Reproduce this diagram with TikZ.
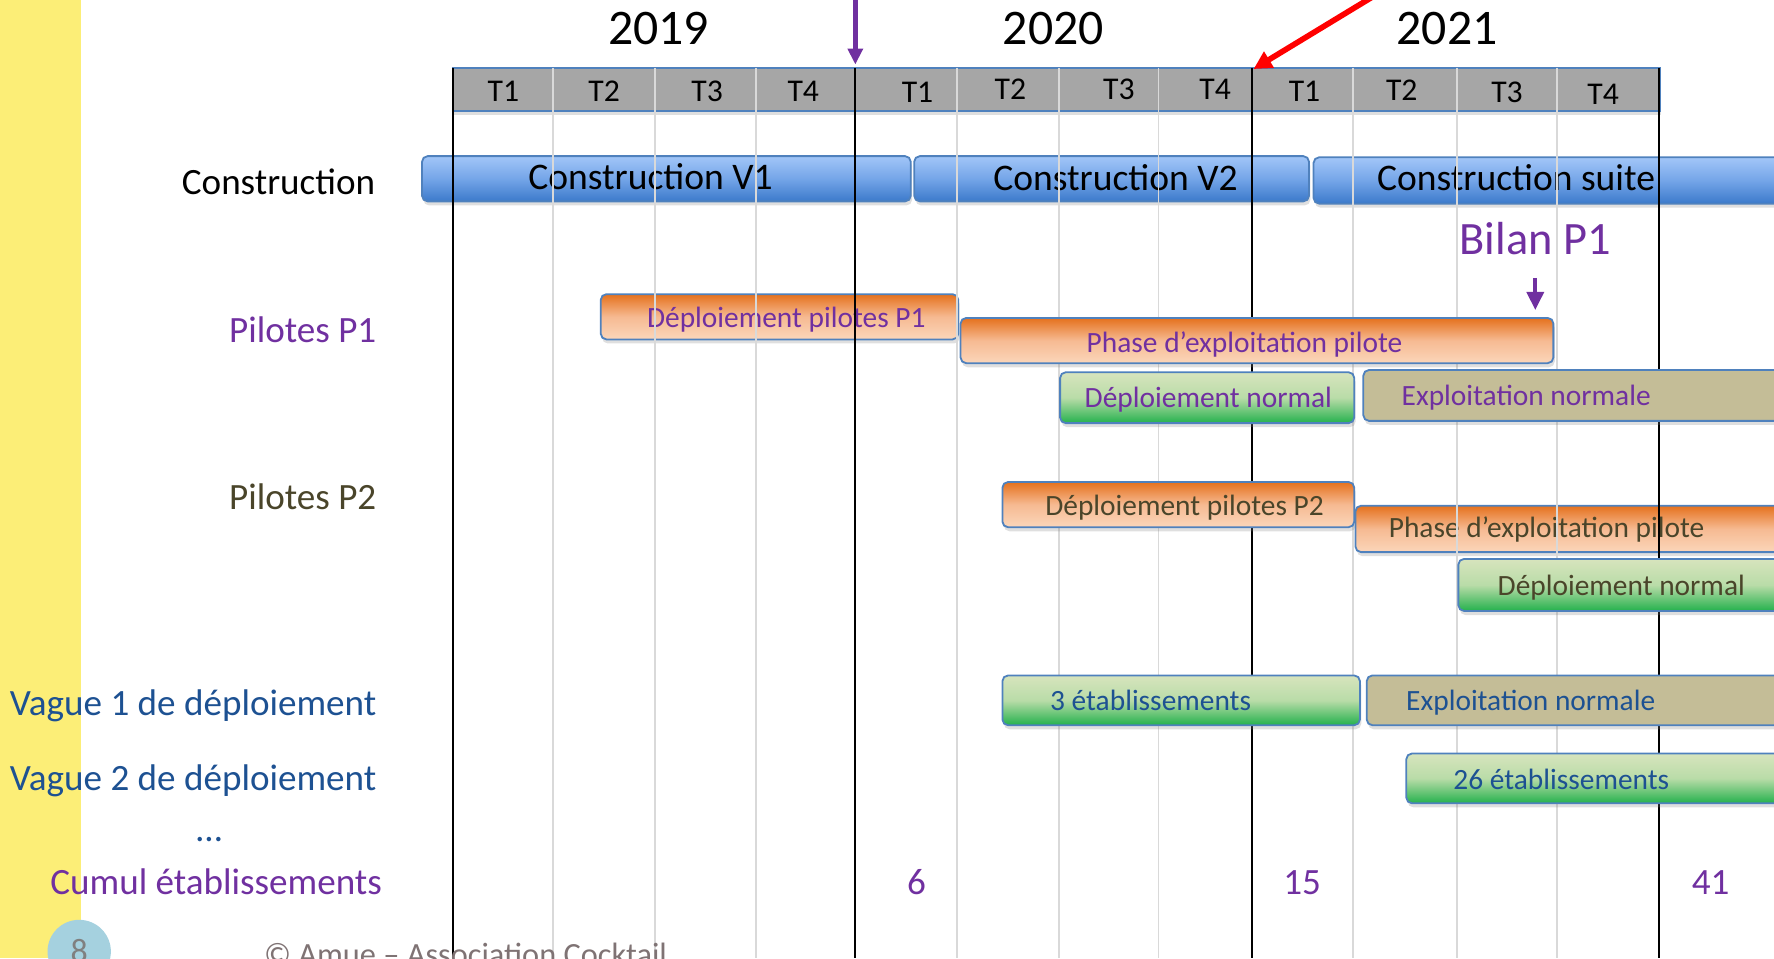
\documentclass[tikz,border=0pt]{standalone}
\usepackage{fontspec}
\setmainfont{Carlito}
\usepackage{tikz}
\usetikzlibrary{arrows.meta,fit,shadows,positioning}
\definecolor{bandyel}{HTML}{FCEE77}
\definecolor{hdrgray}{HTML}{A6A6A6}
\definecolor{barline}{HTML}{4F81BD}
\definecolor{gridgray}{HTML}{D9D9D9}
\definecolor{blutop}{HTML}{A2C6F8}
\definecolor{blumid}{HTML}{74A5E8}
\definecolor{blubot}{HTML}{3C7ACB}
\definecolor{ortop}{HTML}{E5711D}
\definecolor{ormid}{HTML}{F6BA92}
\definecolor{orbot}{HTML}{FBD6BA}
\definecolor{grtop}{HTML}{D7E4BD}
\definecolor{grmid}{HTML}{B9DCA8}
\definecolor{grbot}{HTML}{24B14D}
\definecolor{tancol}{HTML}{C4BD97}
\definecolor{purp}{HTML}{7030A0}
\definecolor{olive}{HTML}{4A452A}
\definecolor{navy}{HTML}{1D5192}
\definecolor{tealc}{HTML}{A5D1DF}
\definecolor{copygray}{HTML}{7F7374}

\begin{document}
\begin{tikzpicture}[x=0.5pt, y=-0.5pt,
    txt/.style={inner sep=0pt, text depth=0pt},
    yr/.style={txt, text height=13.9pt, font=\fontsize{22}{24}\selectfont},
    qtr/.style={txt, text height=9pt, font=\fontsize{14}{16}\selectfont},
    rowlbl/.style={txt, anchor=east, text height=10.5pt, font=\fontsize{16.4}{18}\selectfont},
    bigtxt/.style={txt, text height=10.8pt, font=\fontsize{16.6}{18}\selectfont},
    bartxt/.style={txt, text height=8.4pt, font=\fontsize{13}{15}\selectfont},
    bar/.style={inner sep=0pt, rounded corners=2.5pt, draw=barline, line width=0.8pt,
      drop shadow={opacity=0.25, shadow xshift=0.6pt, shadow yshift=-1.8pt}},
    blubar/.style={bar, top color=blutop, bottom color=blubot, middle color=blumid},
    orbar/.style={bar, top color=ortop, bottom color=orbot, middle color=ormid},
    grbar/.style={bar, top color=grtop, bottom color=grbot, middle color=grmid},
    tanbar/.style={bar, fill=tancol},
    gridln/.style={draw=gridgray, line width=0.8pt},
    yrln/.style={draw=black, line width=0.9pt},
    purparrow/.style={draw=purp, line width=2pt, -{Triangle[length=7pt,width=6.5pt]}},
    redarrow/.style={draw=red, line width=2.5pt, -{Triangle[length=8pt,width=8pt]}}
  ]
  \useasboundingbox (0,0) rectangle (1568,847);
  \clip (0,0) rectangle (1568,847);
  \fill[bandyel] (0,0) rectangle (72,847);

  \node[fit={(400,60) (1467,98)}, inner sep=0pt, fill=hdrgray, draw=barline, line width=0.8pt,
    drop shadow={opacity=0.25, shadow xshift=0.6pt, shadow yshift=-1.8pt}] (hdr) {};

  \node[blubar, fit={(373,138) (805,178)}] (cv1) {};
  \node[bigtxt] (cv1t) at (575,157) {Construction V1};
  \node[blubar, fit={(808,138) (1157,178)}] (cv2) {};
  \node[bigtxt] (cv2t) at (986,158) {Construction V2};
  \node[blubar, fit={(1161,139) (1600,180)}] (csuite) {};
  \node[bigtxt] (csuitet) at (1340,158) {Construction suite};
  \node[orbar, fit={(531,260) (847,300)}] (dp1) {};
  \node[bartxt, text=purp] (dp1t) at (695,281) {Déploiement pilotes P1};
  \node[orbar, fit={(1198,447) (1600,488)}] (pp2) {};
  \node[bartxt, text=olive] (pp2t) at (1367,467) {Phase d’exploitation pilote};

  \foreach \x in {489,579,668,846,936,1024,1196,1288,1376}
    \draw[gridln] (\x,60) -- (\x,847);
  \foreach \x in {400,756,1107,1466}
    \draw[yrln] (\x,60) -- (\x,847);

  \node[orbar, fit={(849,281) (1373,321)}] (pp1) {};
  \node[bartxt, text=purp] (pp1t) at (1100,303) {Phase d’exploitation pilote};
  \node[grbar, fit={(937,329) (1197,374)}] (dn1) {};
  \node[bartxt, text=purp] (dn1t) at (1068,352) {Déploiement normal};
  \node[tanbar, fit={(1205,327) (1600,372)}] (en1) {};
  \node[bartxt, text=purp] (en1t) at (1349,350) {Exploitation normale};
  \node[orbar, fit={(886,426) (1197,466)}] (dp2) {};
  \node[bartxt, text=olive] (dp2t) at (1047,447) {Déploiement pilotes P2};
  \node[grbar, fit={(1289,494) (1600,540)}] (dn2) {};
  \node[bartxt, text=olive] (dn2t) at (1433,518) {Déploiement normal};
  \node[grbar, fit={(886,597) (1202,641)}] (e3) {};
  \node[bartxt, text=navy] (e3t) at (1017,620) {3 établissements};
  \node[tanbar, fit={(1208,597) (1600,641)}] (en2) {};
  \node[bartxt, text=navy] (en2t) at (1353,620) {Exploitation normale};
  \node[grbar, fit={(1243,666) (1600,710)}] (e26) {};
  \node[bartxt, text=navy] (e26t) at (1380,689) {26 établissements};

  \node[yr] (y2019) at (582,25) {2019};
  \node[yr] (y2020) at (931,25) {2020};
  \node[yr] (y2021) at (1279,25) {2021};
  \foreach \x/\y/\q [count=\i] in {445/81/T1, 534/81/T2, 625/81/T3, 710/81/T4,
      811/82/T1, 893/79/T2, 989/79/T3, 1074/79/T4,
      1153/81/T1, 1239/80/T2, 1332/82/T3, 1417/83/T4}
    \node[qtr] (q\i) at (\x,\y) {\q};

  \node[rowlbl] (lcons) at (332,161) {Construction};
  \node[rowlbl, text=purp] (lp1) at (333,292) {Pilotes P1};
  \node[rowlbl, text=olive] (lp2) at (333,440) {Pilotes P2};
  \node[rowlbl, text=navy] (lv1) at (333,622) {Vague 1 de déploiement};
  \node[rowlbl, text=navy] (lv2) at (333,688) {Vague 2 de déploiement};
  \node[rowlbl, anchor=center, text=navy] (ldots) at (185,733) {…};
  \node[rowlbl, text=purp] (lcum) at (338,780) {Cumul établissements};
  \node[rowlbl, anchor=center, text=purp] (n6) at (810,780) {6};
  \node[rowlbl, anchor=center, text=purp] (n15) at (1151,780) {15};
  \node[rowlbl, anchor=center, text=purp] (n41) at (1512,780) {41};

  \node[txt, text=purp, text height=13.2pt, font=\fontsize{20.5}{22}\selectfont] (bilan) at (1357,212) {Bilan P1};
  \coordinate (bilantip) at (1357,274);
  \draw[draw=purp, line width=1.6pt, -{Triangle[length=8pt,width=7.5pt]}, shorten <=10pt]
    (bilan.south) -- (bilantip);

  \coordinate (purtail) at (756,-10);
  \coordinate (purtip) at (756,57);
  \draw[purparrow] (purtail) -- (purtip);
  \coordinate (redtail) at (1258,-30);
  \coordinate (redtip) at (1108,61);
  \draw[redarrow] (redtail) -- (redtip);

  \node[circle, fill=tealc, minimum size=28pt, inner sep=0pt, text=gray,
    font=\fontsize{15}{17}\selectfont] (pgno) at (70,841) {8};
  \node[anchor=base west, inner sep=0pt, text=copygray, font=\fontsize{14.3}{16}\selectfont]
    (copy) at (233,853) {© Amue – Association Cocktail};
\end{tikzpicture}
\end{document}
